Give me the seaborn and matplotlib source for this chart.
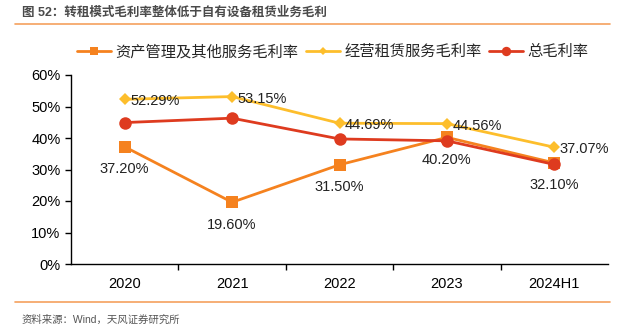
import matplotlib
matplotlib.use("Agg")
import matplotlib.pyplot as plt
import seaborn as sns
import pandas as pd
from matplotlib.ticker import FuncFormatter, FixedLocator

categories = ["2020", "2021", "2022", "2023", "2024H1"]
asset_mgmt = [37.20, 19.60, 31.50, 40.20, 32.10]
leasing = [52.29, 53.15, 44.69, 44.56, 37.07]
total = [44.9, 46.3, 39.7, 39.1, 31.6]
series_names = ["资产管理及其他服务毛利率", "经营租赁服务毛利率", "总毛利率"]

sns.set_theme(style="white")
plt.rcParams['font.family'] = ['Liberation Sans', 'Noto Sans CJK SC', 'DejaVu Sans']

df = pd.DataFrame({
    "cat": categories * 3,
    "x": list(range(len(categories))) * 3,
    "val": asset_mgmt + leasing + total,
    "series": [series_names[0]] * 5 + [series_names[1]] * 5 + [series_names[2]] * 5,
})

colors = {series_names[0]: "#F5821F", series_names[1]: "#FDBE2C", series_names[2]: "#DE3B1F"}
markers = {series_names[0]: "s", series_names[1]: "D", series_names[2]: "o"}
msize = {series_names[0]: 8, series_names[1]: 6, series_names[2]: 9}

fig = plt.figure(figsize=(6.33, 3.33), dpi=100)
ax = fig.add_axes([71/633, 1-264/333, 537/633, 189/333])

for s in series_names:
    sub = df[df.series == s]
    sns.lineplot(data=sub, x="x", y="val", ax=ax, color=colors[s], marker=markers[s],
                 markersize=msize[s], markeredgewidth=0, linewidth=2, label=s, sort=False)

ax.set_xlim(-0.5, len(categories) - 0.5)
ax.set_ylim(0, 60)
ax.set_yticks(range(0, 61, 10))
ax.yaxis.set_major_formatter(FuncFormatter(lambda v, p: f"{int(v)}%"))
ax.set_xticks(range(len(categories)))
ax.set_xticklabels(categories)
ax.xaxis.set_minor_locator(FixedLocator([i + 0.5 for i in range(len(categories) - 1)]))
ax.tick_params(axis="x", which="major", length=0, pad=9, labelsize=10.5, colors="black")
ax.tick_params(axis="x", which="minor", length=4, width=1, direction="out", color="black", bottom=True)
ax.tick_params(axis="y", length=4, width=1, direction="out", color="black", left=True, labelsize=10.5, colors="black")
ax.set_xlabel("")
ax.set_ylabel("")
for sp in ["top", "right"]:
    ax.spines[sp].set_visible(False)
for sp in ["left", "bottom"]:
    ax.spines[sp].set_color("black")
    ax.spines[sp].set_linewidth(1)

for i, v in enumerate(asset_mgmt):
    ax.annotate(f"{v:.2f}%", (i, v), xytext=(0, -11), textcoords="offset points",
                ha="center", va="top", fontsize=10.5, color="#222222")
for i, v in enumerate(leasing):
    ax.annotate(f"{v:.2f}%", (i, v), xytext=(4, -1.5), textcoords="offset points",
                ha="left", va="center", fontsize=10.5, color="#222222")

ax.legend_.remove()
handles, labels = ax.get_legend_handles_labels()
fig.legend(handles, labels, loc="center", bbox_to_anchor=(333/633, 1-52/333), ncol=3,
           frameon=False, fontsize=11, handlelength=2.2, columnspacing=0.5, handletextpad=0.3,
           borderaxespad=0, markerscale=0.75)

fig.text(22/633, 1-13/333, "图 52：转租模式毛利率整体低于自有设备租赁业务毛利", fontsize=9,
         color="#4a4a4a", fontweight="bold", va="center", ha="left")
fig.add_artist(plt.Line2D([15/633, 610/633], [1-24/333, 1-24/333], color="#F5A15E", linewidth=1.2))
fig.add_artist(plt.Line2D([15/633, 610/633], [1-302/333, 1-302/333], color="#F5A15E", linewidth=1.2))
fig.text(22/633, 1-320/333, "资料来源：Wind，天风证券研究所", fontsize=7.5, color="#555555",
         va="center", ha="left")

fig.savefig("out.png", dpi=100)
